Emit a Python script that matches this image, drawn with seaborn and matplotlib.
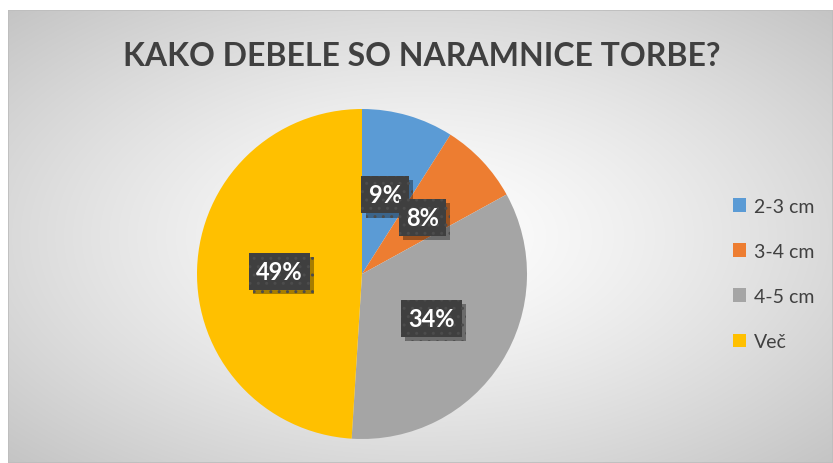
import numpy as np
import matplotlib
matplotlib.use("Agg")
import matplotlib.pyplot as plt
import matplotlib.patheffects as pe
from matplotlib.patches import Patch, Rectangle
import seaborn as sns

categories = ["2-3 cm", "3-4 cm", "4-5 cm", "Več"]
values = [9, 8, 34, 49]
colors = ["#5B9BD5", "#ED7D31", "#A5A5A5", "#FFC000"]
title = "KAKO DEBELE SO NARAMNICE TORBE?"

sns.set_theme(style="white")
plt.rcParams["font.family"] = ["Lato", "DejaVu Sans"]
plt.rcParams["hatch.linewidth"] = 1.0
plt.rcParams["hatch.color"] = "#4c4c4c"

W, H = 833, 464
fig = plt.figure(figsize=(W / 100, H / 100), dpi=100)
fig.patch.set_facecolor("white")

# background radial gradient panel
x0, y0 = 8, 11
bg = fig.add_axes([x0 / W, 0, 1 - x0 / W, 1 - y0 / H], zorder=-5)
bw, bh = W - x0, H - y0
xx, yy = np.meshgrid(np.linspace(0, bw, 400), np.linspace(0, bh, 250))
cx, cy = bw * 0.5, bh * 0.5
d = np.sqrt(((xx - cx) / (bw * 0.5)) ** 2 + ((yy - cy) / (bh * 0.5)) ** 2) / np.sqrt(2)
d = np.clip(d, 0, 1)
g = 1.0 - 0.23 * d ** 1.3
img = np.dstack([g, g, g])
bg.imshow(img, extent=[0, bw, bh, 0], aspect="auto", interpolation="bilinear")
bg.set_xlim(0, bw)
bg.set_ylim(bh, 0)
bg.axis("off")
bg.add_patch(Rectangle((0, 0), bw, bh, fill=False, edgecolor="#bdbdbd", lw=1.2))

# pie
cxp, cyp, r = 362, 275, 165
ax = fig.add_axes([(cxp - r) / W, (H - cyp - r) / H, 2 * r / W, 2 * r / H])
wedges, texts, autotexts = ax.pie(
    values, colors=sns.color_palette(colors), startangle=90, counterclock=False,
    autopct="%1.0f%%", pctdistance=0.5, radius=1.0,
    wedgeprops=dict(edgecolor="none"),
    textprops=dict(color="white", fontsize=17, fontweight="bold"),
)
ax.set_aspect("equal")
ax.set_xlim(-1, 1)
ax.set_ylim(-1, 1)
for t in autotexts:
    t.set_bbox(dict(boxstyle="square,pad=0.3", facecolor="#3f3f3f",
                    edgecolor="#4c4c4c", hatch="..", linewidth=0))
    t.get_bbox_patch().set_path_effects(
        [pe.SimplePatchShadow(offset=(3, -3), shadow_rgbFace="black", alpha=0.35), pe.Normal()])

fig.text(422 / W, 1 - 56 / H, title, ha="center", va="center",
         fontsize=23, fontweight="bold", color="#404040")

handles = [Patch(facecolor=c, edgecolor="none") for c in colors]
leg = fig.legend(handles, categories, loc="center left", bbox_to_anchor=(0.868, 1 - 275 / H),
                 frameon=False, fontsize=14, labelspacing=1.45, handlelength=0.7,
                 handleheight=0.7, handletextpad=0.4, borderpad=0)
for t in leg.get_texts():
    t.set_color("#404040")

fig.savefig("out.png", dpi=100)
